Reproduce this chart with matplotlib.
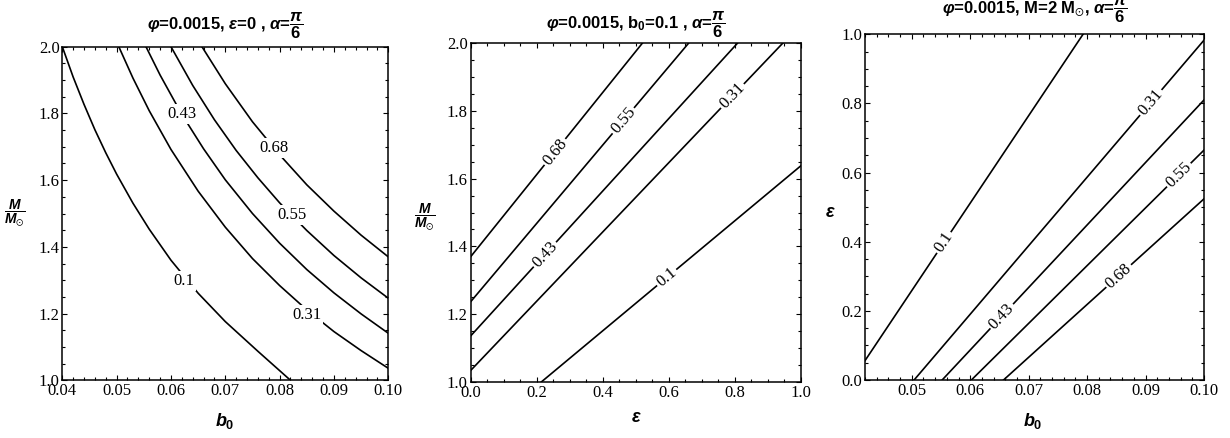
import numpy as np
import matplotlib
matplotlib.use("Agg")
import matplotlib.pyplot as plt
from matplotlib.ticker import MultipleLocator

plt.rcParams["mathtext.fontset"] = "custom"
plt.rcParams["mathtext.rm"] = "Liberation Sans:bold"
plt.rcParams["mathtext.it"] = "Liberation Sans:italic:bold"
plt.rcParams["mathtext.bf"] = "Liberation Sans:bold"
plt.rcParams["mathtext.fallback"] = "stixsans"

levels = ["0.1", "0.31", "0.43", "0.55", "0.68"]

# left panel: M/M_sun against b0, epsilon = 0
left_b0 = [
	[0.0400, 0.0420, 0.0440, 0.0460, 0.0480, 0.0500, 0.0530, 0.0560, 0.0600, 0.0650, 0.0700, 0.0760, 0.0820],
	[0.0504, 0.0530, 0.0560, 0.0600, 0.0650, 0.0700, 0.0750, 0.0800, 0.0850, 0.0900, 0.0950, 0.1000],
	[0.0554, 0.0580, 0.0620, 0.0660, 0.0700, 0.0750, 0.0800, 0.0850, 0.0900, 0.0950, 0.1000],
	[0.0600, 0.0640, 0.0680, 0.0720, 0.0760, 0.0800, 0.0850, 0.0900, 0.0950, 0.1000],
	[0.0657, 0.0700, 0.0750, 0.0800, 0.0850, 0.0900, 0.0950, 0.1000],
]
left_M = [
	[2.000, 1.909, 1.827, 1.751, 1.682, 1.618, 1.531, 1.453, 1.360, 1.261, 1.176, 1.087, 1.000],
	[2.000, 1.906, 1.808, 1.692, 1.567, 1.459, 1.365, 1.284, 1.211, 1.146, 1.089, 1.036],
	[2.000, 1.915, 1.797, 1.694, 1.601, 1.500, 1.411, 1.332, 1.262, 1.199, 1.141],
	[2.000, 1.884, 1.781, 1.689, 1.607, 1.532, 1.449, 1.374, 1.307, 1.246],
	[2.000, 1.889, 1.775, 1.676, 1.586, 1.507, 1.435, 1.370],
]
left_label_x = [0.0624, 0.0850, 0.0621, 0.0822, 0.0790]
left_label_y = [1.299, 1.196, 1.798, 1.4955, 1.697]

# middle panel: M/M_sun against epsilon, b0 = 0.1
mid_eps = [[0.215, 1.0], [0.0, 0.945], [0.0, 0.808], [0.0, 0.660], [0.0, 0.520]]
mid_M = [[1.0, 1.638], [1.033, 2.0], [1.135, 2.0], [1.236, 2.0], [1.369, 2.0]]
mid_label_x = [0.594, 0.793, 0.2253, 0.4626, 0.2556]

# right panel: epsilon against b0, M = 2 M_sun
right_b0 = [[0.042, 0.0793], [0.0504, 0.1], [0.0552, 0.1], [0.0602, 0.1], [0.0657, 0.1]]
right_eps = [[0.056, 1.0], [0.0, 0.983], [0.0, 0.810], [0.0, 0.665], [0.0, 0.524]]
right_label_x = [0.0555, 0.0909, 0.0654, 0.0957, 0.0854]

W, H = 1230, 438
fig = plt.figure(figsize=(W / 100, H / 100), dpi=100)

def box(l, t, r, b):
	return [l / W, 1 - b / H, (r - l) / W, (b - t) / H]

ax1 = fig.add_axes(box(62.3, 46.7, 388.3, 380.3))
ax2 = fig.add_axes(box(470.5, 43.3, 800.8, 381.8))
ax3 = fig.add_axes(box(865, 34.3, 1204, 380))

ax1.set_xlim(0.04, 0.10)
ax1.set_ylim(1.0, 2.0)
ax2.set_xlim(0.0, 1.0)
ax2.set_ylim(1.0, 2.0)
ax3.set_xlim(0.042, 0.10)
ax3.set_ylim(0.0, 1.0)

for ax, xmaj, xmin, ymaj, ymin in [
	(ax1, 0.01, 0.002, 0.2, 0.05),
	(ax2, 0.2, 0.05, 0.2, 0.05),
	(ax3, 0.01, 0.002, 0.2, 0.05),
]:
	ax.xaxis.set_major_locator(MultipleLocator(xmaj))
	ax.xaxis.set_minor_locator(MultipleLocator(xmin))
	ax.yaxis.set_major_locator(MultipleLocator(ymaj))
	ax.yaxis.set_minor_locator(MultipleLocator(ymin))
	ax.tick_params(which="both", direction="in", top=True, right=True, width=0.8)
	ax.tick_params(which="major", length=3.8, labelsize=12, pad=2)
	ax.tick_params(which="minor", length=2)
	for lab in ax.get_xticklabels() + ax.get_yticklabels():
		lab.set_family("Liberation Serif")
	for s in ax.spines.values():
		s.set_linewidth(1.1)

ax1.xaxis.set_major_formatter(lambda v, p: "%.2f" % v)
ax3.xaxis.set_major_formatter(lambda v, p: "%.2f" % v)
ax1.yaxis.set_major_formatter(lambda v, p: "%.1f" % v)
ax2.yaxis.set_major_formatter(lambda v, p: "%.1f" % v)
ax2.xaxis.set_major_formatter(lambda v, p: "%.1f" % v)
ax3.yaxis.set_major_formatter(lambda v, p: "%.1f" % v)

label_style = dict(family="Liberation Serif", fontsize=12, ha="center", va="center",
	zorder=5, bbox=dict(facecolor="white", edgecolor="none", pad=1.5))


def angle_of(ax, xs, ys):
	p = ax.transData.transform(np.column_stack([xs, ys]))
	return np.degrees(np.arctan2(p[-1, 1] - p[0, 1], p[-1, 0] - p[0, 0]))


for i, lev in enumerate(levels):
	ax1.plot(left_b0[i], left_M[i], color="black", lw=1.2)
	ax1.text(left_label_x[i], left_label_y[i], lev, **label_style)

	ax2.plot(mid_eps[i], mid_M[i], color="black", lw=1.2)
	ly = np.interp(mid_label_x[i], mid_eps[i], mid_M[i])
	ax2.text(mid_label_x[i], ly, lev, rotation=angle_of(ax2, mid_eps[i], mid_M[i]),
		rotation_mode="anchor", **label_style)

	ax3.plot(right_b0[i], right_eps[i], color="black", lw=1.2)
	ly = np.interp(right_label_x[i], right_b0[i], right_eps[i])
	ax3.text(right_label_x[i], ly, lev, rotation=angle_of(ax3, right_b0[i], right_eps[i]),
		rotation_mode="anchor", **label_style)

title_style = dict(family="Liberation Sans", weight="bold", fontsize=12, ha="center", va="center")
fig.text(225 / W, 1 - 25.5 / H, r"$\varphi$=0.0015, $\epsilon$=0 , $\alpha$=$\dfrac{\pi}{6}$", **title_style)
fig.text(636 / W, 1 - 25 / H, r"$\varphi$=0.0015, b$_0$=0.1 , $\alpha$=$\dfrac{\pi}{6}$", **title_style)
fig.text(1035 / W, 1 - 10 / H, r"$\varphi$=0.0015, M=2 M$_{\odot}$, $\alpha$=$\dfrac{\pi}{6}$", **title_style)

axis_style = dict(fontsize=13, ha="center", va="center")
fig.text(225 / W, 1 - 421 / H, r"$b_0$", **axis_style)
fig.text(636 / W, 1 - 417 / H, r"$\epsilon$", **axis_style)
fig.text(1033 / W, 1 - 421 / H, r"$b_0$", **axis_style)
fig.text(15 / W, 1 - 213 / H, r"$\dfrac{M}{M_{\odot}}$", fontsize=10, ha="center", va="center")
fig.text(425 / W, 1 - 217 / H, r"$\dfrac{M}{M_{\odot}}$", fontsize=10, ha="center", va="center")
fig.text(830 / W, 1 - 212 / H, r"$\epsilon$", **axis_style)

plt.savefig("out.png", dpi=100)
